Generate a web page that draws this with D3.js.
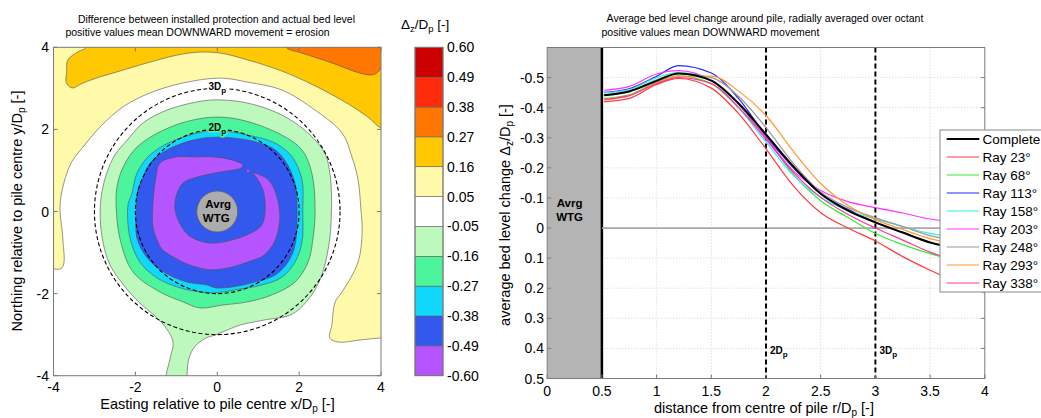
<!DOCTYPE html>
<html><head><meta charset="utf-8">
<script src="https://cdn.jsdelivr.net/npm/d3@7"></script>
<style>
body{margin:0;background:#fff;}
svg{display:block;font-family:Arial,"Liberation Sans",sans-serif;}
</style></head><body>
<svg id="c" width="1041" height="418"></svg>
<script>
// ---------------- DATA ----------------
// colour-bar levels (Δz/Dp) and band colours, bottom -> top
const cbLevels = [-0.60,-0.49,-0.38,-0.27,-0.16,-0.05,0.05,0.16,0.27,0.38,0.49,0.60];
const cbLabels = ["-0.60","-0.49","-0.38","-0.27","-0.16","-0.05","0.05","0.16","0.27","0.38","0.49","0.60"];
const cbColors = ["#b455ff","#3358ee","#10d8fa","#4cf59c","#bdf9bd","#ffffff","#fffaaa","#ffc800","#ff7600","#ff2c0c","#cc0000"];
const backgroundBand = 6; // 0.05 .. 0.16

const bandGold = [[-3.05,4.4],[-3.19,4.0],[-3.40,3.89],[-3.65,3.69],[-3.68,3.37],[-3.69,3.15],[-3.55,3.01],[-3.28,3.13],[-2.86,3.28],[-2.45,3.40],[-1.64,3.64],[-0.98,3.81],[-0.49,3.88],[0.07,3.86],[0.75,3.69],[1.58,3.42],[2.39,3.06],[3.20,2.62],[3.68,2.30],[4.0,2.03],[4.4,1.9],[4.4,4.4]];
const bandOrange = [[1.55,4.4],[1.68,4.0],[2.07,3.86],[2.80,3.62],[3.49,3.37],[3.80,3.33],[3.95,3.42],[4.05,3.6],[4.4,3.6],[4.4,4.4]];
const bandWhite = [[0.07,3.25],[0.75,3.15],[1.58,2.96],[2.39,2.47],[3.05,1.91],[3.29,1.33],[3.44,0.77],[3.51,0.04],[3.54,-0.5],[3.44,-1.23],[3.05,-1.96],[2.88,-2.2],[2.80,-2.76],[2.75,-3.08],[2.95,-3.18],[3.49,-3.13],[4.0,-3.08],[4.4,-3.08],[4.4,-4.4],[-4.4,-4.4],[-4.4,-1.40],[-3.80,-1.38],[-3.77,-0.69],[-3.84,0.04],[-3.79,0.52],[-3.57,1.18],[-3.28,1.57],[-2.86,2.06],[-2.30,2.55],[-1.64,2.89],[-0.84,3.13]];
const bandLightGreen = [[-0.01,2.72],[0.75,2.64],[1.58,2.35],[2.22,1.91],[2.63,1.42],[2.75,0.94],[2.79,0.45],[2.79,0.04],[2.75,-0.65],[2.58,-1.47],[2.31,-2.03],[1.83,-2.50],[1.17,-2.64],[0.58,-2.76],[0.19,-2.91],[-0.05,-3.01],[-0.27,-3.08],[-0.54,-3.28],[-0.69,-3.57],[-0.74,-4.0],[-0.76,-4.4],[-1.27,-4.4],[-1.25,-4.0],[-1.15,-3.57],[-1.08,-3.18],[-1.25,-2.84],[-1.52,-2.55],[-1.89,-2.23],[-2.25,-1.84],[-2.62,-1.30],[-2.81,-0.65],[-2.86,0.04],[-2.81,0.52],[-2.69,0.96],[-2.50,1.38],[-2.20,1.74],[-1.81,2.16],[-1.23,2.47],[-0.49,2.67]];
const bandGreen = [[0.07,2.30],[0.75,2.19],[1.58,1.86],[2.07,1.50],[2.31,0.94],[2.39,0.04],[2.34,-0.65],[2.22,-1.23],[1.90,-1.72],[1.34,-2.03],[0.75,-2.20],[0.12,-2.28],[-0.42,-2.35],[-0.84,-2.20],[-1.40,-1.96],[-2.06,-1.47],[-2.38,-0.65],[-2.47,0.16],[-2.45,0.60],[-2.30,1.08],[-1.96,1.57],[-1.32,1.98],[-0.59,2.23]];
const bandCyan = [[-0.05,1.98],[0.75,1.86],[1.41,1.67],[1.83,1.33],[2.07,0.77],[2.09,0.04],[2.07,-0.74],[1.90,-1.23],[1.58,-1.60],[1.09,-1.79],[0.43,-1.91],[-0.05,-1.98],[-0.42,-1.96],[-0.91,-1.86],[-1.47,-1.62],[-1.89,-1.23],[-2.13,-0.65],[-2.18,0.16],[-2.08,0.45],[-1.96,0.94],[-1.64,1.38],[-1.15,1.69],[-0.49,1.91]];
const bandBlue = [[-0.05,1.81],[0.75,1.74],[1.34,1.55],[1.65,1.25],[1.90,0.69],[1.95,0.04],[1.90,-0.82],[1.73,-1.23],[1.41,-1.55],[0.92,-1.72],[0.36,-1.84],[-0.05,-1.86],[-0.25,-1.79],[-0.74,-1.72],[-1.32,-1.47],[-1.71,-1.13],[-1.96,-0.65],[-1.98,0.04],[-1.94,0.52],[-1.84,0.77],[-1.64,1.18],[-1.23,1.50],[-0.59,1.74]];
const bandPurple = [[0.63,1.13],[0.38,1.25],[-0.10,1.33],[-0.59,1.33],[-1.01,1.33],[-1.40,1.18],[-1.50,0.82],[-1.57,0.21],[-1.57,-0.38],[-1.45,-0.74],[-1.33,-0.94],[-1.03,-1.13],[-0.74,-1.28],[-0.42,-1.38],[-0.10,-1.42],[0.36,-1.35],[0.75,-1.23],[1.12,-1.08],[1.34,-0.84],[1.46,-0.57],[1.53,-0.13],[1.46,0.35],[1.34,0.65],[1.19,0.82],[1.00,0.91],[0.87,0.94],[0.95,0.84],[1.12,0.52],[1.17,0.04],[1.09,-0.33],[0.87,-0.50],[0.38,-0.69],[-0.18,-0.77],[-0.67,-0.60],[-0.91,-0.30],[-1.03,0.04],[-1.01,0.35],[-0.84,0.69],[-0.49,0.84],[0.07,0.96],[0.58,1.06]];
const purpleSpot = [0.75,0.99];
const mapBands = [
  {pts: bandGold, band: 7},
  {pts: bandOrange, band: 8},
  {pts: bandWhite, band: 5},
  {pts: bandLightGreen, band: 4},
  {pts: bandGreen, band: 3},
  {pts: bandCyan, band: 2},
  {pts: bandBlue, band: 1},
  {pts: bandPurple, band: 0}
];
const refCircles = [2, 3];           // radii in Dp
const pileRadius = 0.5;
const mapTicks = [-4,-2,0,2,4];

// radial profiles
const radius = [0.52,0.75,1.0,1.2,1.5,1.75,2.0,2.25,2.5,2.75,3.0,3.25,3.5,3.75,4.0];
const complete = [-0.441,-0.454,-0.489,-0.514,-0.490,-0.414,-0.311,-0.205,-0.114,-0.058,-0.019,0.015,0.048,0.068,0.080];
const ray23  = [-0.420,-0.431,-0.477,-0.497,-0.465,-0.380,-0.263,-0.140,-0.051,0.000,0.043,0.095,0.140,0.180,0.215];
const ray68  = [-0.431,-0.443,-0.485,-0.506,-0.480,-0.400,-0.303,-0.178,-0.091,-0.035,0.018,0.055,0.085,0.108,0.120];
const ray113 = [-0.451,-0.463,-0.504,-0.540,-0.515,-0.430,-0.306,-0.200,-0.114,-0.062,-0.019,0.015,0.048,0.066,0.078];
const ray158 = [-0.449,-0.460,-0.500,-0.517,-0.490,-0.400,-0.286,-0.175,-0.102,-0.058,-0.030,-0.005,0.018,0.032,0.045];
const ray203 = [-0.458,-0.471,-0.512,-0.523,-0.490,-0.410,-0.300,-0.190,-0.125,-0.088,-0.068,-0.050,-0.030,-0.018,-0.010];
const ray248 = [-0.443,-0.456,-0.493,-0.513,-0.500,-0.437,-0.334,-0.215,-0.120,-0.068,-0.034,-0.005,0.025,0.042,0.052];
const ray293 = [-0.426,-0.440,-0.483,-0.504,-0.505,-0.455,-0.374,-0.255,-0.148,-0.075,-0.028,0.005,0.035,0.055,0.066];
const ray338 = [-0.428,-0.440,-0.480,-0.500,-0.480,-0.400,-0.295,-0.185,-0.102,-0.045,0.000,0.040,0.080,0.110,0.130];
const seriesNames = ["Complete","Ray 23°","Ray 68°","Ray 113°","Ray 158°","Ray 203°","Ray 248°","Ray 293°","Ray 338°"];
const seriesValues = [complete, ray23, ray68, ray113, ray158, ray203, ray248, ray293, ray338];
const seriesColors = ["#000000","#ff3b3b","#33ee33","#2a2aff","#30eeee","#ff33ff","#999999","#ff9933","#ff3399"];
const profXTicks = [0,0.5,1,1.5,2,2.5,3,3.5,4];
const profXLabels = ["0","0.5","1","1.5","2","2.5","3","3.5","4"];
const profYTicks = [-0.5,-0.4,-0.3,-0.2,-0.1,0,0.1,0.2,0.3,0.4,0.5];
const profYLabels = ["-0.5","-0.4","-0.3","-0.2","-0.1","0","0.1","0.2","0.3","0.4","0.5"];
const refLines = [2, 3];
const refLineLabels = ["2D","3D"];

// ---------------- DRAW ----------------
const svg = d3.select("#c");
const AX = "#7a7a7a";

// ===== Map =====
const mx = d3.scaleLinear().domain([-4,4]).range([53.5,381]);
const my = d3.scaleLinear().domain([-4,4]).range([375.7,47.3]);
svg.append("clipPath").attr("id","mapclip").append("rect")
  .attr("x",mx(-4)).attr("y",my(4)).attr("width",mx(4)-mx(-4)).attr("height",my(-4)-my(4));
const map = svg.append("g").attr("clip-path","url(#mapclip)");
map.append("rect").attr("x",mx(-4)).attr("y",my(4)).attr("width",mx(4)-mx(-4)).attr("height",my(-4)-my(4))
  .attr("fill",cbColors[backgroundBand]);
const area = d3.line().x(d=>mx(d[0])).y(d=>my(d[1])).curve(d3.curveCatmullRomClosed.alpha(0.5));
mapBands.forEach(b=>{
  map.append("path").attr("d",area(b.pts)).attr("fill",cbColors[b.band])
    .attr("stroke","#505050").attr("stroke-width",0.6);
});
map.append("circle").attr("cx",mx(purpleSpot[0])).attr("cy",my(purpleSpot[1])).attr("r",1.6)
  .attr("fill",cbColors[0]).attr("stroke","#505050").attr("stroke-width",0.4);
// reference circles
refCircles.forEach(r=>{
  map.append("ellipse").attr("cx",mx(0)).attr("cy",my(0))
    .attr("rx",mx(r)-mx(0)).attr("ry",my(0)-my(r))
    .attr("fill","none").attr("stroke","#000").attr("stroke-width",1.1).attr("stroke-dasharray","4,2.5");
});
// circle labels
[[3,"#ffffff"],[2,cbColors[3]]].forEach(([r,bg])=>{
  const t = map.append("text").attr("x",mx(0)).attr("y",my(r)+2).attr("text-anchor","middle")
    .attr("font-size",10).attr("font-weight","bold")
    .attr("stroke",bg).attr("stroke-width",3).attr("paint-order","stroke");
  t.append("tspan").text(r+"D");
  t.append("tspan").attr("dy",3).attr("font-size",8).text("p");
});
// pile
map.append("ellipse").attr("cx",mx(0)).attr("cy",my(0)).attr("rx",mx(pileRadius)-mx(0)).attr("ry",my(0)-my(pileRadius))
  .attr("fill","#acacac").attr("stroke","#606060").attr("stroke-width",0.8);
map.append("text").attr("x",mx(0)+1).attr("y",my(0)-4).attr("text-anchor","middle")
  .attr("font-size",11.5).attr("font-weight","bold").text("Avrg");
map.append("text").attr("x",mx(0)-1).attr("y",my(0)+10).attr("text-anchor","middle")
  .attr("font-size",11.5).attr("font-weight","bold").text("WTG");
// frame + axes
svg.append("rect").attr("x",mx(-4)).attr("y",my(4)).attr("width",mx(4)-mx(-4)).attr("height",my(-4)-my(4))
  .attr("fill","none").attr("stroke",AX).attr("stroke-width",1);
mapTicks.forEach(t=>{
  svg.append("line").attr("x1",mx(t)).attr("x2",mx(t)).attr("y1",my(-4)).attr("y2",my(-4)-4).attr("stroke",AX);
  svg.append("line").attr("x1",mx(t)).attr("x2",mx(t)).attr("y1",my(4)).attr("y2",my(4)+4).attr("stroke",AX);
  svg.append("line").attr("y1",my(t)).attr("y2",my(t)).attr("x1",mx(-4)).attr("x2",mx(-4)+4).attr("stroke",AX);
  svg.append("line").attr("y1",my(t)).attr("y2",my(t)).attr("x1",mx(4)).attr("x2",mx(4)-4).attr("stroke",AX);
  svg.append("text").attr("x",mx(t)).attr("y",392).attr("text-anchor","middle").attr("font-size",14).text(String(t));
  svg.append("text").attr("x",49).attr("y",my(t)+5).attr("text-anchor","end").attr("font-size",14).text(String(t));
});
// labels
(function(){
  const t = svg.append("text").attr("x",217.5).attr("y",409).attr("text-anchor","middle").attr("font-size",14.5);
  t.append("tspan").text("Easting relative to pile centre x/D");
  t.append("tspan").attr("dy",3).attr("font-size",10).text("p");
  t.append("tspan").attr("dy",-3).text(" [-]");
  const y = svg.append("text").attr("transform","translate(22,211) rotate(-90)").attr("text-anchor","middle").attr("font-size",14.5);
  y.append("tspan").text("Northing relative to pile centre y/D");
  y.append("tspan").attr("dy",3).attr("font-size",10).text("p");
  y.append("tspan").attr("dy",-3).text(" [-]");
  svg.append("text").attr("x",216.5).attr("y",23).attr("text-anchor","middle").attr("font-size",10.5)
    .text("Difference between installed protection and actual bed level");
  svg.append("text").attr("x",197.5).attr("y",36).attr("text-anchor","middle").attr("font-size",10.5)
    .text("positive values mean DOWNWARD movement = erosion");
})();

// ===== Colour bar =====
const cbY = d3.scaleLinear().domain([0, cbColors.length]).range([375.7,47.3]);
const cbX0 = 415, cbW = 28;
cbColors.forEach((c,i)=>{
  svg.append("rect").attr("x",cbX0).attr("y",cbY(i+1)).attr("width",cbW).attr("height",cbY(i)-cbY(i+1))
    .attr("fill",c).attr("stroke","#606060").attr("stroke-width",0.6);
});
svg.append("rect").attr("x",cbX0).attr("y",cbY(cbColors.length)).attr("width",cbW).attr("height",cbY(0)-cbY(cbColors.length))
  .attr("fill","none").attr("stroke",AX).attr("stroke-width",1);
cbLevels.forEach((v,i)=>{
  svg.append("text").attr("x",447).attr("y",cbY(i)+5).attr("font-size",14).text(cbLabels[i]);
});
(function(){
  const t = svg.append("text").attr("x",401).attr("y",29).attr("font-size",13.5);
  t.append("tspan").text("Δ");
  t.append("tspan").attr("dy",3).attr("font-size",9.5).text("z");
  t.append("tspan").attr("dy",-3).text("/D");
  t.append("tspan").attr("dy",3).attr("font-size",9.5).text("p");
  t.append("tspan").attr("dy",-3).text(" [-]");
})();

// ===== Profiles =====
const px = d3.scaleLinear().domain([0,4]).range([547.2,984.8]);
const py = d3.scaleLinear().domain([-0.6,0.5]).range([47.5,378.5]);
svg.append("clipPath").attr("id","pclip").append("rect")
  .attr("x",px(0)).attr("y",py(-0.6)).attr("width",px(4)-px(0)).attr("height",py(0.5)-py(-0.6));
const pg = svg.append("g").attr("clip-path","url(#pclip)");
// grid
profXTicks.slice(1,-1).forEach(t=>{
  pg.append("line").attr("x1",px(t)).attr("x2",px(t)).attr("y1",py(-0.6)).attr("y2",py(0.5))
    .attr("stroke","#c8c8c8").attr("stroke-width",0.8).attr("stroke-dasharray","1,2");
});
profYTicks.forEach(t=>{
  pg.append("line").attr("x1",px(0)).attr("x2",px(4)).attr("y1",py(t)).attr("y2",py(t))
    .attr("stroke","#c8c8c8").attr("stroke-width",0.8).attr("stroke-dasharray","1,2");
});
// pile box
pg.append("rect").attr("x",px(0)).attr("y",py(-0.6)).attr("width",px(0.5)-px(0)).attr("height",py(0.5)-py(-0.6))
  .attr("fill","#b4b4b4");
pg.append("line").attr("x1",px(0.5)).attr("x2",px(0.5)).attr("y1",py(-0.6)).attr("y2",py(0.5))
  .attr("stroke","#000").attr("stroke-width",2.5);
pg.append("text").attr("x",px(0.25)-5).attr("y",py(-0.07)).attr("text-anchor","middle")
  .attr("font-size",11.5).attr("font-weight","bold").text("Avrg");
pg.append("text").attr("x",px(0.25)-5).attr("y",py(-0.022)).attr("text-anchor","middle")
  .attr("font-size",11.5).attr("font-weight","bold").text("WTG");
// zero line
pg.append("line").attr("x1",px(0.5)).attr("x2",px(4)).attr("y1",py(0)).attr("y2",py(0))
  .attr("stroke","#a8a8a8").attr("stroke-width",1.8);
// reference lines
refLines.forEach((r,i)=>{
  pg.append("line").attr("x1",px(r)).attr("x2",px(r)).attr("y1",py(-0.6)).attr("y2",py(0.5))
    .attr("stroke","#000").attr("stroke-width",2).attr("stroke-dasharray","5,3");
  const t = pg.append("text").attr("x",px(r)+4).attr("y",py(0.42)).attr("font-size",10).attr("font-weight","bold");
  t.append("tspan").text(refLineLabels[i]);
  t.append("tspan").attr("dy",3).attr("font-size",8).text("p");
});
// series
const line = d3.line().x((d,i)=>px(radius[i])).y(d=>py(d)).curve(d3.curveMonotoneX);
const order = [1,2,3,4,5,6,7,8,0];
order.forEach(k=>{
  pg.append("path").attr("d",line(seriesValues[k])).attr("fill","none")
    .attr("stroke",seriesColors[k]).attr("stroke-width",k===0?2:1.2);
});
// frame
svg.append("rect").attr("x",px(0)).attr("y",py(-0.6)).attr("width",px(4)-px(0)).attr("height",py(0.5)-py(-0.6))
  .attr("fill","none").attr("stroke",AX).attr("stroke-width",1);
profXTicks.forEach((t,i)=>{
  svg.append("line").attr("x1",px(t)).attr("x2",px(t)).attr("y1",py(0.5)).attr("y2",py(0.5)-4).attr("stroke",AX);
  svg.append("text").attr("x",px(t)).attr("y",396).attr("text-anchor","middle").attr("font-size",14).text(profXLabels[i]);
});
profYTicks.forEach((t,i)=>{
  svg.append("line").attr("x1",px(0)).attr("x2",px(0)+4).attr("y1",py(t)).attr("y2",py(t)).attr("stroke",AX);
  svg.append("line").attr("x1",px(4)).attr("x2",px(4)-4).attr("y1",py(t)).attr("y2",py(t)).attr("stroke",AX);
  svg.append("text").attr("x",544).attr("y",py(t)+5).attr("text-anchor","end").attr("font-size",14).text(profYLabels[i]);
});
(function(){
  const t = svg.append("text").attr("x",764).attr("y",413).attr("text-anchor","middle").attr("font-size",14.5);
  t.append("tspan").text("distance from centre of pile r/D");
  t.append("tspan").attr("dy",3).attr("font-size",10).text("p");
  t.append("tspan").attr("dy",-3).text(" [-]");
  const y = svg.append("text").attr("transform","translate(510,215) rotate(-90)").attr("text-anchor","middle").attr("font-size",14.5);
  y.append("tspan").text("average bed level change Δ");
  y.append("tspan").attr("dy",3).attr("font-size",10).text("z");
  y.append("tspan").attr("dy",-3).text("/D");
  y.append("tspan").attr("dy",3).attr("font-size",10).text("p");
  y.append("tspan").attr("dy",-3).text(" [-]");
  svg.append("text").attr("x",765).attr("y",22).attr("text-anchor","middle").attr("font-size",10.5)
    .text("Average bed level change around pile, radially averaged over octant");
  svg.append("text").attr("x",601.5).attr("y",35.5).attr("font-size",10.5)
    .text("positive values mean DOWNWARD movement");
})();
// legend
const lg = svg.append("g");
lg.append("rect").attr("x",940).attr("y",130).attr("width",130).attr("height",162)
  .attr("fill","#fff").attr("stroke","#888").attr("stroke-width",1);
seriesNames.forEach((n,i)=>{
  const yy = 139 + i*18;
  lg.append("line").attr("x1",946.7).attr("x2",979.3).attr("y1",yy).attr("y2",yy)
    .attr("stroke",seriesColors[i]).attr("stroke-width",i===0?2:1.2);
  lg.append("text").attr("x",982.5).attr("y",yy+5).attr("font-size",13.5).text(n);
});
</script>
</body></html>
